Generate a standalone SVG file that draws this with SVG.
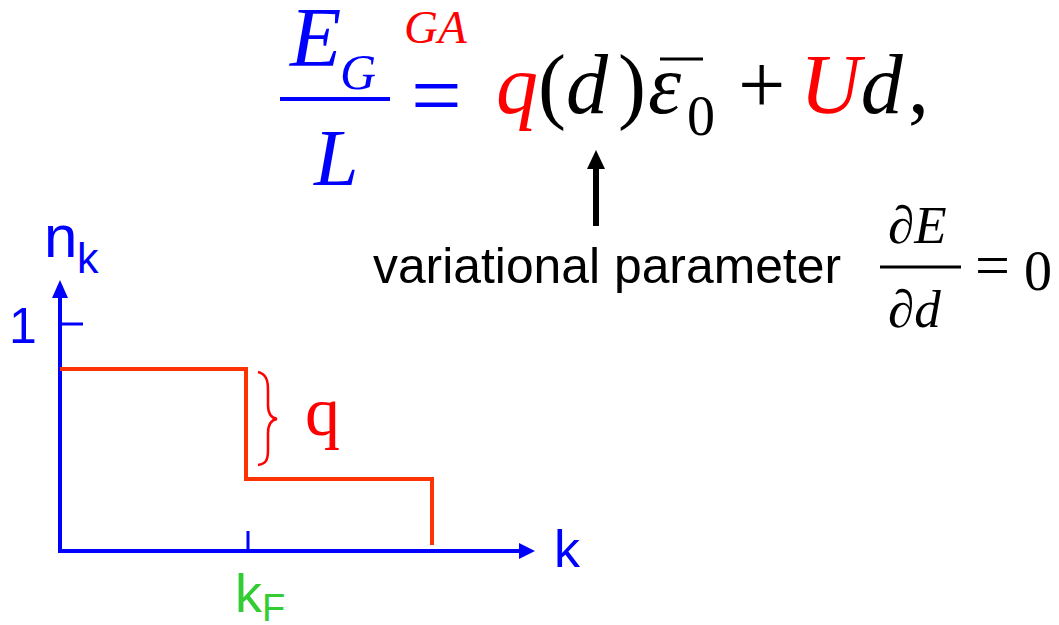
<svg xmlns="http://www.w3.org/2000/svg" width="1059" height="625" viewBox="0 0 1059 625">
<style>
.ser{font-family:"Liberation Serif","Times New Roman",serif}
.it{font-style:italic}
.san{font-family:"Liberation Sans",Arial,sans-serif}
.blue{fill:#0000FF}
.red{fill:#FF0000}
.blk{fill:#000000}
.grn{fill:#33CC33}
.ax{stroke:#0000FF;stroke-width:4;fill:none}
</style>
<rect width="1059" height="625" fill="#FFFFFF"/>
<g id="equation">
  <text class="ser it blue" x="290" y="66" font-size="84">E</text>
  <text class="ser it blue" x="340" y="89" font-size="50">G</text>
  <text class="ser it red" x="404" y="43" font-size="47">GA</text>
  <rect x="280" y="97" width="110" height="4" class="blue"/>
  <text class="ser it blue" x="314" y="185" font-size="80">L</text>
  <text class="ser blue" x="411" y="126" font-size="90">=</text>
  <text class="ser it red" x="496" y="113" font-size="84">q</text>
  <text class="ser blk" x="538" y="113" font-size="84">(</text>
  <text class="ser it blk" x="566" y="113" font-size="84">d</text>
  <text class="ser blk" x="618" y="113" font-size="84">)</text>
  <text class="ser it blk" x="648" y="113" font-size="84">ε</text>
  <rect x="660" y="57.5" width="43" height="3" class="blk"/>
  <text class="ser blk" x="687" y="135" font-size="56">0</text>
  <text class="ser blk" x="738" y="113" font-size="84">+</text>
  <text class="ser it" x="800" y="113" font-size="84"><tspan class="red">U</tspan><tspan class="blk">d</tspan></text>
  <text class="ser blk" x="908" y="113" font-size="84">,</text>
</g>
<g id="label-variational">
  <text class="san blk" x="373" y="283" font-size="50" textLength="468" lengthAdjust="spacingAndGlyphs">variational parameter</text>
</g>
<g id="derivative">
  <text class="ser blk" x="888" y="243" font-size="53">∂<tspan class="it">E</tspan></text>
  <rect x="880" y="265.5" width="81" height="3" class="blk"/>
  <text class="ser blk" x="888" y="327" font-size="53">∂<tspan class="it">d</tspan></text>
  <text class="ser blk" x="975" y="286" font-size="62">=</text>
  <text class="ser blk" x="1024" y="290" font-size="56">0</text>
</g>
<g id="axes">
  <line x1="60" y1="294" x2="60" y2="553" class="ax"/>
  <polygon points="60,280 52,298 68,298" class="blue"/>
  <line x1="60" y1="324" x2="83" y2="324" stroke="#0000FF" stroke-width="3"/>
  <line x1="58" y1="551" x2="522" y2="551" class="ax"/>
  <polygon points="535,551 519,543 519,559" class="blue"/>
  <line x1="248" y1="531" x2="248" y2="551" stroke="#0000FF" stroke-width="3"/>
</g>
<g id="axis-labels">
  <text class="san blue" x="44" y="257" font-size="60">n</text>
  <text class="san blue" x="77" y="273" font-size="43">k</text>
  <text class="san blue" x="9" y="343" font-size="50">1</text>
  <text class="san blue" x="554" y="567" font-size="52">k</text>
  <text class="san grn" x="235" y="612" font-size="54">k</text>
  <text class="san grn" x="262" y="621" font-size="38">F</text>
</g>
<g id="step-curve">
  <polyline points="60,369 246,369 246,479 432,479 432,545" fill="none" stroke="#FF3300" stroke-width="4"/>
</g>
<g id="brace-q">
  <path d="M258,372 C266,374 268,380 268,390 L268,405 C268,414 271,418 277,419 C271,420 268,424 268,433 L268,450 C268,460 266,464 258,465" fill="none" stroke="#FF0000" stroke-width="2.5"/>
  <text class="ser red" x="305" y="435" font-size="70">q</text>
</g>
<g id="arrow">
  <line x1="596" y1="165" x2="596" y2="226" stroke="#000000" stroke-width="6"/>
  <polygon points="596,150 587,169 605,169" class="blk"/>
</g>
</svg>
